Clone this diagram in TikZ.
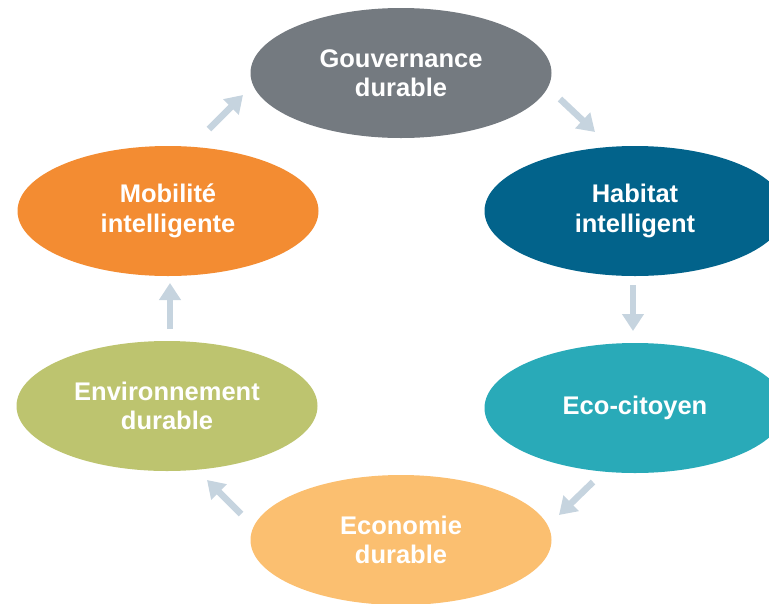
\documentclass[tikz,border=0pt]{standalone}
\usepackage{fontspec}
\setmainfont{Liberation Sans}
\usetikzlibrary{shapes.geometric,arrows.meta}
\definecolor{cgray}{HTML}{747A80}
\definecolor{cblue}{HTML}{02638B}
\definecolor{cteal}{HTML}{29AAB8}
\definecolor{clorange}{HTML}{FBBF70}
\definecolor{colive}{HTML}{BDC46F}
\definecolor{corange}{HTML}{F38C32}
\definecolor{carrow}{HTML}{C6D4DF}
\tikzset{
  bubble/.style={ellipse, draw=none, minimum width=301pt, minimum height=130pt, inner sep=0pt,
    text=white, align=center, font=\fontsize{25.5}{29.5}\selectfont\bfseries},
  flow/.style={draw=carrow, line width=6.5pt, -{Triangle[width=21pt,length=17pt]}}
}
\begin{document}
\begin{tikzpicture}[x=1pt,y=-1pt]
\useasboundingbox (0,0) rectangle (769,603);
\clip (0,0) rectangle (769,603);
\node[bubble, fill=cgray] (gov) at (401,73) {Gouvernance\\durable};
\node[bubble, fill=cblue] (hab) at (635,211) {Habitat\\intelligent};
\node[bubble, fill=cteal] (eco) at (635,408) {Eco-citoyen};
\node[bubble, fill=clorange] (econ) at (401,540) {Economie\\durable};
\node[bubble, fill=colive] (env) at (167,406) {Environnement\\durable};
\node[bubble, fill=corange] (mob) at (168,211) {Mobilité\\intelligente};
\coordinate (a1s) at (209,129); \coordinate (a1e) at (243,95);
\coordinate (a2s) at (560,99); \coordinate (a2e) at (595,132);
\coordinate (a3s) at (633,285); \coordinate (a3e) at (633,331);
\coordinate (a4s) at (593,482); \coordinate (a4e) at (559,515);
\coordinate (a5s) at (241,514); \coordinate (a5e) at (207,480);
\coordinate (a6s) at (170,329); \coordinate (a6e) at (170,283);
\draw[flow] (a1s) -- (a1e);
\draw[flow] (a2s) -- (a2e);
\draw[flow] (a3s) -- (a3e);
\draw[flow] (a4s) -- (a4e);
\draw[flow] (a5s) -- (a5e);
\draw[flow] (a6s) -- (a6e);
\end{tikzpicture}
\end{document}
